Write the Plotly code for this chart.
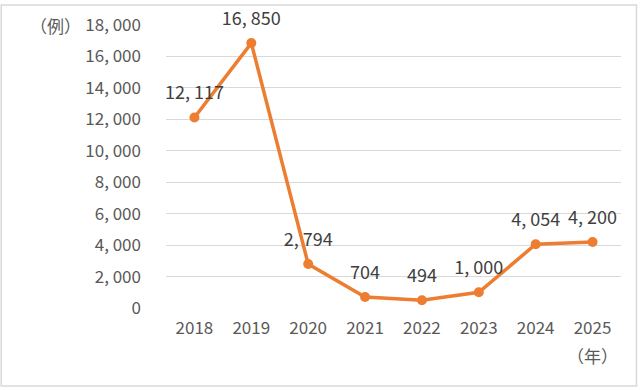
import plotly.graph_objects as go

years = ["2018", "2019", "2020", "2021", "2022", "2023", "2024", "2025"]
cases = [12117, 16850, 2794, 704, 494, 1000, 4054, 4200]
y_ticks = [0, 2000, 4000, 6000, 8000, 10000, 12000, 14000, 16000, 18000]

def fmt(v):
    return f"{v:,}".replace(",", ", ")

W, H = 640, 390
L, R, T, B = 166, 18.5, 25, 82
pw, ph = W - L - R, H - T - B

FONT = "Liberation Sans Narrow, Noto Sans CJK JP, sans-serif"
GRAY = "#595959"
FS = 17

fig = go.Figure()
fig.add_trace(go.Scatter(
    x=years, y=cases, mode="lines+markers",
    line=dict(color="#ED7D31", width=3.5),
    marker=dict(color="#ED7D31", size=10),
    cliponaxis=False, showlegend=False, hoverinfo="skip",
))
# data labels (invisible larger markers give the label offset)
fig.add_trace(go.Scatter(
    x=years, y=cases, mode="markers+text",
    marker=dict(color="rgba(0,0,0,0)", size=20),
    text=[fmt(v) for v in cases], textposition="top center",
    textfont=dict(family=FONT, size=FS + 1, color="#404040"),
    cliponaxis=False, showlegend=False, hoverinfo="skip",
))

fig.update_layout(
    width=W, height=H,
    margin=dict(l=L, r=R, t=T, b=B),
    paper_bgcolor="white", plot_bgcolor="white",
    font=dict(family=FONT, size=FS, color=GRAY),
    xaxis=dict(type="category", range=[-0.5, 7.5], showgrid=False, zeroline=False,
               showline=False, ticks="", ticklabelstandoff=8,
               tickfont=dict(family=FONT, size=FS, color=GRAY)),
    yaxis=dict(range=[0, 18000], tickvals=y_ticks, ticktext=[fmt(v) for v in y_ticks],
               showgrid=True, gridcolor="#D9D9D9", gridwidth=1, zeroline=False,
               showline=False, ticks="", ticklabelstandoff=24,
               tickfont=dict(family=FONT, size=FS, color=GRAY)),
)

# outer chart border
fig.add_shape(type="rect", xref="paper", yref="paper",
              x0=(1 - L) / pw, x1=(637 - L) / pw,
              y0=(H - B - 386) / ph, y1=(H - B - 5) / ph,
              line=dict(color="#D9D9D9", width=1.5), layer="below")

fig.add_annotation(text="（例）", xref="paper", yref="paper",
                   x=(55 - L) / pw, y=(H - B - 25) / ph, showarrow=False,
                   xanchor="center", yanchor="middle",
                   font=dict(family="Noto Sans CJK JP", size=17, color=GRAY))
fig.add_annotation(text="（年）", xref="paper", yref="paper",
                   x=(593 - L) / pw, y=(H - B - 355) / ph, showarrow=False,
                   xanchor="center", yanchor="middle",
                   font=dict(family="Noto Sans CJK JP", size=17, color=GRAY))

fig.write_html("out.html", config={"displayModeBar": False},
               post_script="document.body.style.margin='0';document.body.style.padding='0';")
